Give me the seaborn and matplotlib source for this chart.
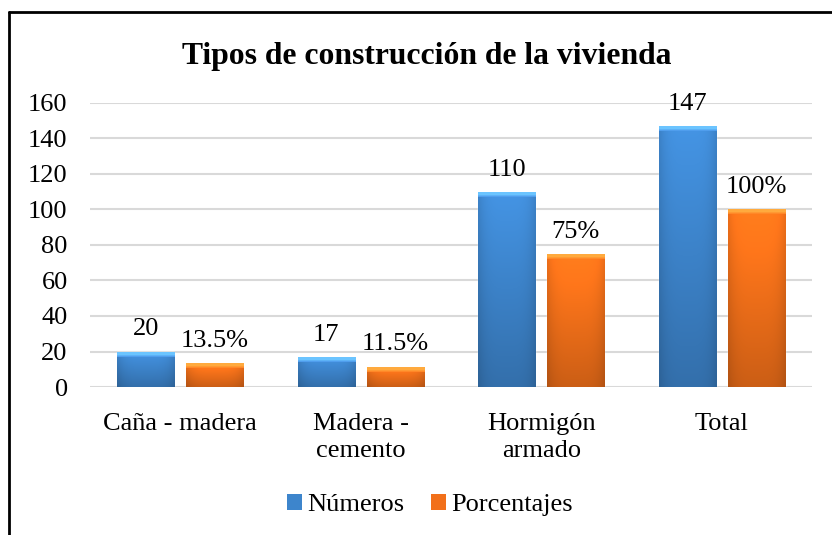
import numpy as np
import pandas as pd
import matplotlib
matplotlib.use("Agg")
import matplotlib.pyplot as plt
from matplotlib.lines import Line2D
from matplotlib.patches import Patch
import seaborn as sns

categories = ["Caña - madera", "Madera -\ncemento", "Hormigón\narmado", "Total"]
numeros = [20, 17, 110, 147]
porcentajes = [13.5, 11.5, 75, 100]
porcentaje_labels = ["13.5%", "11.5%", "75%", "100%"]
series = ["Números", "Porcentajes"]
yticks = [0, 20, 40, 60, 80, 100, 120, 140, 160]

colors = {"Números": (0.24, 0.52, 0.80), "Porcentajes": (0.95, 0.44, 0.10)}

df = pd.DataFrame({
    "categoria": categories * 2,
    "serie": [series[0]] * len(categories) + [series[1]] * len(categories),
    "valor": numeros + porcentajes,
})

sns.set_theme(style="white")
plt.rcParams["font.family"] = ["Liberation Serif", "DejaVu Serif"]
plt.rcParams["text.color"] = "black"
plt.rcParams["xtick.color"] = "black"
plt.rcParams["ytick.color"] = "black"

fig = plt.figure(figsize=(8.32, 5.35), dpi=100)
ax = fig.add_axes([0.108, 0.2766, 0.868, 0.531])

sns.barplot(data=df, x="categoria", y="valor", hue="serie", order=categories,
            hue_order=series, palette=colors, width=0.765, gap=0.174,
            ax=ax, legend=False, zorder=3)

ax.set_yticks(yticks)
ax.yaxis.grid(True, color="#d9d9d9", linewidth=1.5, zorder=0)
ax.set_axisbelow(True)
for s in ax.spines.values():
    s.set_visible(False)
ax.tick_params(axis="y", labelsize=19, length=0, pad=16, labelcolor="black")
ax.tick_params(axis="x", labelsize=19, length=0, pad=19, labelcolor="black")
ax.set_xlabel("")
ax.set_ylabel("")
for t in ax.get_xticklabels():
    t.set_linespacing(1.25)

# gradient shading over bars (Excel-like bevel)
bevel = 160 * 5 / 284
for cont, name in zip(ax.containers, series):
    base = np.array(colors[name])
    for bar in cont:
        x0, y0 = bar.get_x(), bar.get_y()
        w, h = bar.get_width(), bar.get_height()
        ny, nx = 80, 40
        vy = np.linspace(1.12, 0.84, ny)[:, None]
        hx = 1 - 0.12 * np.abs(np.linspace(-1, 1, nx))[None, :] ** 4
        f = vy * hx
        img = np.clip(base[None, None, :] * f[:, :, None], 0, 1)
        im = ax.imshow(img, extent=[x0, x0 + w, y0, y0 + h], aspect="auto",
                       origin="upper", zorder=3.5, interpolation="bilinear")
        im.set_clip_path(bar)
        top = np.clip(base * 1.25 + 0.12, 0, 1)
        timg = np.tile(top, (4, 20, 1))
        timg[-1, :, :] = np.clip(base * 1.1 + 0.05, 0, 1)
        ti = ax.imshow(timg, extent=[x0, x0 + w, y0 + h - min(bevel, h * 0.4), y0 + h],
                       aspect="auto", origin="upper", zorder=3.6,
                       interpolation="bilinear")
        ti.set_clip_path(bar)

ax.set_xlim(-0.5, len(categories) - 0.5)
ax.set_ylim(0, 160)

ax.bar_label(ax.containers[0], labels=[str(v) for v in numeros],
             fontsize=19, padding=8, zorder=5, color="black")
ax.bar_label(ax.containers[1], labels=porcentaje_labels,
             fontsize=19, padding=8, zorder=5, color="black")

fig.suptitle("Tipos de construcción de la vivienda", x=0.513, y=0.895,
             fontsize=22.8, fontweight="bold", va="center", color="black")

handles = [Patch(facecolor=colors[s], edgecolor="none", label=s) for s in series]
fig.legend(handles=handles, loc="center", bbox_to_anchor=(0.517, 0.056), ncol=2,
           frameon=False, fontsize=19, handlelength=0.58, handleheight=0.58,
           handletextpad=0.2, columnspacing=1.0)

# chart border
fig.add_artist(Line2D([0.0114, 0.0114], [0, 0.977], color="black", linewidth=2,
                      transform=fig.transFigure))
fig.add_artist(Line2D([0.0114, 1.0], [0.977, 0.977], color="black", linewidth=2,
                      transform=fig.transFigure))

fig.savefig("out.png", dpi=100)
